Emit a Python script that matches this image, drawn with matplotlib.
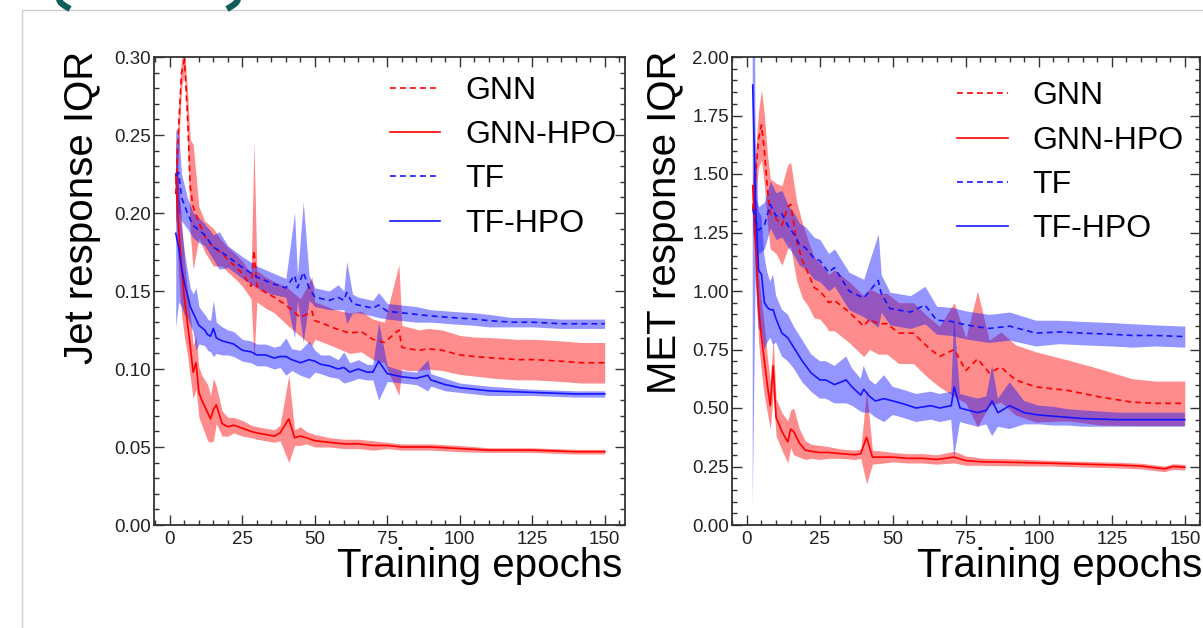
import matplotlib
matplotlib.use("Agg")
import matplotlib.pyplot as plt
from matplotlib.lines import Line2D
from matplotlib.patches import Rectangle
from matplotlib.ticker import MultipleLocator, FormatStrFormatter
import numpy as np

plt.rcParams['font.family'] = ['Liberation Sans', 'DejaVu Sans']

series_names = ["GNN", "GNN-HPO", "TF", "TF-HPO"]

# ---------------- Jet response IQR (left panel) ----------------
jet_gnn_ep = [2, 3, 4, 5, 6, 7, 8, 10, 12, 15, 18, 20, 23, 25, 28, 29, 30, 33, 36, 40, 45, 49, 50, 53, 57,
              62, 66, 70, 74, 79, 80, 82, 86, 89, 94, 100, 105, 112, 120, 126, 135, 142, 150]
jet_gnn = [0.212, 0.255, 0.29, 0.298, 0.265, 0.217, 0.204, 0.194, 0.185, 0.178, 0.174, 0.170, 0.165, 0.161,
           0.153, 0.176, 0.153, 0.149, 0.146, 0.141, 0.133, 0.137, 0.131, 0.129, 0.126, 0.123, 0.124, 0.119,
           0.117, 0.125, 0.114, 0.113, 0.112, 0.113, 0.112, 0.109, 0.108, 0.107, 0.106, 0.106, 0.105, 0.104, 0.104]
jet_gnn_err = [0.012, 0.015, 0.01, 0.008, 0.015, 0.03, 0.04, 0.01, 0.01, 0.012, 0.008, 0.008, 0.008, 0.008,
               0.008, 0.07, 0.01, 0.01, 0.01, 0.012, 0.012, 0.022, 0.012, 0.012, 0.012, 0.013, 0.013, 0.013,
               0.013, 0.042, 0.014, 0.014, 0.013, 0.013, 0.013, 0.0125, 0.0125, 0.013, 0.013, 0.013, 0.013,
               0.013, 0.013]

jet_gnnhpo_ep = [2, 3, 4, 5, 6, 7, 8, 9, 10, 11, 13, 14, 15, 16, 18, 20, 22, 25, 28, 30, 33, 36, 38, 41, 43,
                 45, 47, 50, 55, 60, 65, 70, 75, 80, 90, 100, 110, 125, 140, 150]
jet_gnnhpo = [0.225, 0.19, 0.165, 0.145, 0.13, 0.115, 0.098, 0.104, 0.085, 0.08, 0.072, 0.068, 0.074, 0.077,
              0.065, 0.063, 0.064, 0.062, 0.06, 0.059, 0.058, 0.057, 0.059, 0.068, 0.056, 0.057, 0.056, 0.054,
              0.053, 0.052, 0.052, 0.051, 0.051, 0.050, 0.050, 0.049, 0.048, 0.048, 0.047, 0.047]
jet_gnnhpo_err = [0.025, 0.03, 0.03, 0.025, 0.02, 0.02, 0.017, 0.017, 0.016, 0.016, 0.018, 0.015, 0.02, 0.012,
                  0.008, 0.006, 0.005, 0.005, 0.004, 0.004, 0.004, 0.004, 0.005, 0.028, 0.005, 0.006, 0.004,
                  0.004, 0.003, 0.003, 0.003, 0.003, 0.002, 0.002, 0.002, 0.002, 0.0015, 0.0015, 0.0015, 0.0015]

jet_tf_ep = [2, 3, 4, 6, 8, 10, 12, 15, 17, 20, 25, 30, 35, 40, 43, 44, 46, 48, 50, 55, 58, 60, 61, 63, 65,
             70, 72, 75, 80, 85, 90, 97, 105, 110, 118, 125, 135, 150]
jet_tf = [0.224, 0.226, 0.21, 0.2, 0.192, 0.189, 0.186, 0.178, 0.176, 0.172, 0.165, 0.159, 0.155, 0.152, 0.16,
          0.152, 0.162, 0.152, 0.146, 0.144, 0.146, 0.144, 0.149, 0.142, 0.141, 0.139, 0.141, 0.137, 0.136,
          0.135, 0.134, 0.133, 0.132, 0.131, 0.130, 0.130, 0.129, 0.129]
jet_tf_err = [0.03, 0.025, 0.015, 0.01, 0.008, 0.008, 0.007, 0.008, 0.012, 0.007, 0.007, 0.007, 0.007, 0.006,
              0.04, 0.008, 0.045, 0.008, 0.006, 0.006, 0.008, 0.006, 0.02, 0.006, 0.005, 0.005, 0.008, 0.005,
              0.005, 0.005, 0.004, 0.004, 0.004, 0.004, 0.003, 0.003, 0.003, 0.003]

jet_tfhpo_ep = [2, 3, 4, 5, 6, 7, 8, 9, 10, 12, 13, 14, 15, 16, 18, 20, 22, 25, 28, 30, 33, 36, 38, 40, 42,
                45, 48, 50, 52, 55, 58, 60, 62, 65, 68, 70, 72, 75, 80, 85, 89, 90, 95, 100, 110, 125, 140, 150]
jet_tfhpo = [0.187, 0.178, 0.165, 0.155, 0.148, 0.14, 0.136, 0.132, 0.128, 0.125, 0.122, 0.121, 0.126, 0.12,
             0.118, 0.117, 0.116, 0.112, 0.111, 0.109, 0.109, 0.107, 0.108, 0.108, 0.106, 0.104, 0.106, 0.105,
             0.103, 0.102, 0.1, 0.101, 0.098, 0.1, 0.098, 0.098, 0.105, 0.097, 0.095, 0.094, 0.096, 0.093,
             0.09, 0.088, 0.086, 0.085, 0.084, 0.084]
jet_tfhpo_err = [0.06, 0.035, 0.025, 0.02, 0.015, 0.012, 0.012, 0.02, 0.012, 0.01, 0.01, 0.01, 0.018, 0.01,
                 0.009, 0.008, 0.008, 0.007, 0.007, 0.007, 0.007, 0.007, 0.007, 0.012, 0.007, 0.008, 0.012,
                 0.007, 0.006, 0.007, 0.006, 0.01, 0.006, 0.006, 0.005, 0.005, 0.025, 0.005, 0.004, 0.004,
                 0.01, 0.004, 0.004, 0.003, 0.003, 0.002, 0.002, 0.002]

# ---------------- MET response IQR (right panel) ----------------
met_gnn_ep = [2, 3, 4, 5, 6, 7, 8, 10, 12, 14, 15, 17, 19, 21, 23, 25, 27, 28, 30, 35, 40, 42, 45, 48, 52, 57,
              62, 66, 71, 75, 79, 83, 87, 92, 99, 110, 121, 132, 140, 150]
met_gnn = [1.35, 1.5, 1.65, 1.71, 1.6, 1.44, 1.33, 1.31, 1.28, 1.36, 1.37, 1.215, 1.13, 1.075, 1.015, 1.0, 0.97,
           0.95, 0.96, 0.91, 0.85, 0.88, 0.86, 0.86, 0.82, 0.82, 0.76, 0.72, 0.75, 0.66, 0.71, 0.65, 0.675,
           0.62, 0.59, 0.575, 0.547, 0.525, 0.52, 0.52]
met_gnn_err = [0.1, 0.1, 0.12, 0.15, 0.15, 0.15, 0.15, 0.15, 0.17, 0.18, 0.18, 0.17, 0.16, 0.14, 0.13, 0.12,
               0.12, 0.12, 0.13, 0.13, 0.13, 0.13, 0.13, 0.13, 0.13, 0.13, 0.13, 0.13, 0.2, 0.14, 0.29, 0.14,
               0.15, 0.15, 0.15, 0.13, 0.12, 0.1, 0.095, 0.095]

met_gnnhpo_ep = [2, 3, 4, 5, 6, 7, 8, 9, 10, 12, 14, 15, 16, 18, 20, 22, 25, 28, 32, 37, 39, 41, 43, 47, 50,
                 55, 60, 65, 71, 75, 81, 90, 104, 115, 127, 135, 143, 146, 150]
met_gnnhpo = [1.45, 1.2, 0.93, 0.8, 0.7, 0.6, 0.51, 0.68, 0.46, 0.40, 0.355, 0.41, 0.40, 0.35, 0.32, 0.315,
              0.31, 0.31, 0.305, 0.30, 0.305, 0.375, 0.29, 0.29, 0.29, 0.285, 0.285, 0.28, 0.29, 0.275, 0.27,
              0.268, 0.264, 0.26, 0.256, 0.252, 0.24, 0.25, 0.247]
met_gnnhpo_err = [0.1, 0.15, 0.15, 0.15, 0.15, 0.12, 0.1, 0.12, 0.08, 0.08, 0.09, 0.08, 0.1, 0.06, 0.04, 0.03,
                  0.03, 0.025, 0.02, 0.02, 0.02, 0.2, 0.03, 0.025, 0.02, 0.02, 0.02, 0.02, 0.025, 0.02, 0.015,
                  0.015, 0.012, 0.012, 0.012, 0.012, 0.012, 0.012, 0.012]

met_tf_ep = [2, 3, 4, 6, 8, 10, 12, 14, 16, 18, 20, 23, 25, 28, 30, 35, 40, 45, 46, 49, 56, 61, 65, 70, 75,
             83, 90, 99, 107, 115, 125, 132, 140, 150]
met_tf = [1.35, 1.3, 1.26, 1.28, 1.37, 1.32, 1.33, 1.28, 1.245, 1.2, 1.185, 1.14, 1.13, 1.08, 1.1, 1.0, 0.97,
          1.045, 0.99, 0.925, 0.91, 0.94, 0.875, 0.87, 0.855, 0.84, 0.85, 0.82, 0.825, 0.82, 0.815, 0.81,
          0.81, 0.805]
met_tf_err = [0.1, 0.1, 0.1, 0.1, 0.1, 0.1, 0.1, 0.09, 0.09, 0.09, 0.09, 0.09, 0.09, 0.08, 0.08, 0.08, 0.08,
              0.2, 0.08, 0.07, 0.07, 0.08, 0.06, 0.06, 0.06, 0.06, 0.06, 0.055, 0.05, 0.05, 0.05, 0.05,
              0.045, 0.045]

met_tfhpo_ep = [2, 3, 4, 5, 6, 7, 8, 9, 10, 12, 14, 16, 19, 22, 25, 27, 30, 34, 36, 39, 40, 42, 44, 47, 50,
                53, 58, 63, 66, 70, 71, 73, 76, 79, 82, 84, 86, 90, 95, 100, 105, 110, 115, 127, 140, 150]
met_tfhpo = [1.88, 1.36, 1.09, 1.07, 0.95, 0.93, 0.92, 0.92, 0.88, 0.82, 0.8, 0.76, 0.70, 0.65, 0.62, 0.62,
             0.60, 0.62, 0.59, 0.555, 0.58, 0.55, 0.53, 0.54, 0.53, 0.52, 0.50, 0.51, 0.50, 0.51, 0.59, 0.50,
             0.49, 0.48, 0.49, 0.53, 0.48, 0.51, 0.48, 0.47, 0.465, 0.46, 0.455, 0.45, 0.45, 0.45]
met_tfhpo_err = [1.8, 0.3, 0.25, 0.25, 0.2, 0.15, 0.12, 0.15, 0.1, 0.1, 0.1, 0.09, 0.09, 0.08, 0.08, 0.08,
                 0.08, 0.1, 0.08, 0.07, 0.1, 0.07, 0.07, 0.1, 0.06, 0.06, 0.06, 0.06, 0.06, 0.06, 0.3, 0.06,
                 0.06, 0.06, 0.06, 0.15, 0.06, 0.1, 0.05, 0.04, 0.04, 0.035, 0.035, 0.03, 0.03, 0.03]

jet_x_ticks = [0, 25, 50, 75, 100, 125, 150]
jet_y_ticks = [0.00, 0.05, 0.10, 0.15, 0.20, 0.25, 0.30]
met_y_ticks = [0.00, 0.25, 0.50, 0.75, 1.00, 1.25, 1.50, 1.75, 2.00]

RED = '#ff0000'
BLUE = '#1414ff'

W, H = 1203, 628
fig = plt.figure(figsize=(W / 100, H / 100), dpi=100)
fig.patch.set_facecolor('white')

# slide frame and header decoration
fig.add_artist(Rectangle((22 / W, -0.1), 1.2, 1 - 10 / H + 0.1, transform=fig.transFigure,
                         facecolor='white', edgecolor='#cfcfcf', lw=1.0, zorder=0))
for xs in ([58, 61, 65, 70], [239, 236, 232, 227]):
    fig.add_artist(Line2D([x / W for x in xs], [1 + 2 / H, 1 - 3 / H, 1 - 6 / H, 1 - 9 / H],
                          transform=fig.transFigure, color='#0d5e5b', lw=4.5, solid_capstyle='butt'))


def draw_panel(ax, data, ylim, yticks, yminor, xlim):
    styles = [(RED, (3.5, 2.5)), (RED, None), (BLUE, (3.5, 2.5)), (BLUE, None)]
    for (ep, val, err), (col, dash), name in zip(data, styles, series_names):
        ep = np.asarray(ep, float)
        val = np.asarray(val, float)
        err = np.asarray(err, float)
        ax.fill_between(ep, val - err, val + err, color=col, alpha=0.45, lw=0, zorder=2)
        ln, = ax.plot(ep, val, color=col, lw=1.2, zorder=3, label=name)
        if dash is not None:
            ln.set_dashes(dash)
    ax.set_xlim(*xlim)
    ax.set_ylim(*ylim)
    ax.set_xticks(jet_x_ticks)
    ax.set_yticks(yticks)
    ax.xaxis.set_minor_locator(MultipleLocator(5))
    ax.yaxis.set_minor_locator(MultipleLocator(yminor))
    ax.yaxis.set_major_formatter(FormatStrFormatter('%.2f'))
    ax.tick_params(which='both', direction='in', top=True, right=True, colors='#333333',
                   labelcolor='#222222', labelsize=13.5, width=1.0)
    ax.tick_params(which='major', length=7)
    ax.tick_params(which='minor', length=3.5)
    ax.tick_params(axis='y', pad=2)
    ax.tick_params(axis='x', pad=4)
    for s in ax.spines.values():
        s.set_linewidth(1.3)
        s.set_color('#333333')


ax1 = fig.add_axes([154 / W, 1 - 525 / H, 471 / W, 468 / H])
draw_panel(ax1, [(jet_gnn_ep, jet_gnn, jet_gnn_err), (jet_gnnhpo_ep, jet_gnnhpo, jet_gnnhpo_err),
                 (jet_tf_ep, jet_tf, jet_tf_err), (jet_tfhpo_ep, jet_tfhpo, jet_tfhpo_err)],
           (0, 0.30), jet_y_ticks, 0.01, (-5.5, 157))

ax2 = fig.add_axes([732 / W, 1 - 525 / H, 468 / W, 468 / H])
draw_panel(ax2, [(met_gnn_ep, met_gnn, met_gnn_err), (met_gnnhpo_ep, met_gnnhpo, met_gnnhpo_err),
                 (met_tf_ep, met_tf, met_tf_err), (met_tfhpo_ep, met_tfhpo, met_tfhpo_err)],
           (0, 2.0), met_y_ticks, 0.05, (-5.1, 155.2))

for ax, anchor in ((ax1, (0.50, 0.96)), (ax2, (0.481, 0.948))):
    ax.legend(loc='upper left', bbox_to_anchor=anchor, frameon=False, fontsize=23,
              handlelength=1.58, handletextpad=0.78, labelspacing=0.45, borderpad=0, borderaxespad=0)

fig.text(622 / W, 1 - 577 / H, 'Training epochs', ha='right', va='baseline', fontsize=29)
fig.text(1202 / W, 1 - 577 / H, 'Training epochs', ha='right', va='baseline', fontsize=29)
fig.text(82 / W, 1 - 51 / H, 'Jet response IQR', rotation=90, ha='center', va='top', fontsize=29)
fig.text(665 / W, 1 - 51 / H, 'MET response IQR', rotation=90, ha='center', va='top', fontsize=29)

fig.savefig('out.png', dpi=100)
